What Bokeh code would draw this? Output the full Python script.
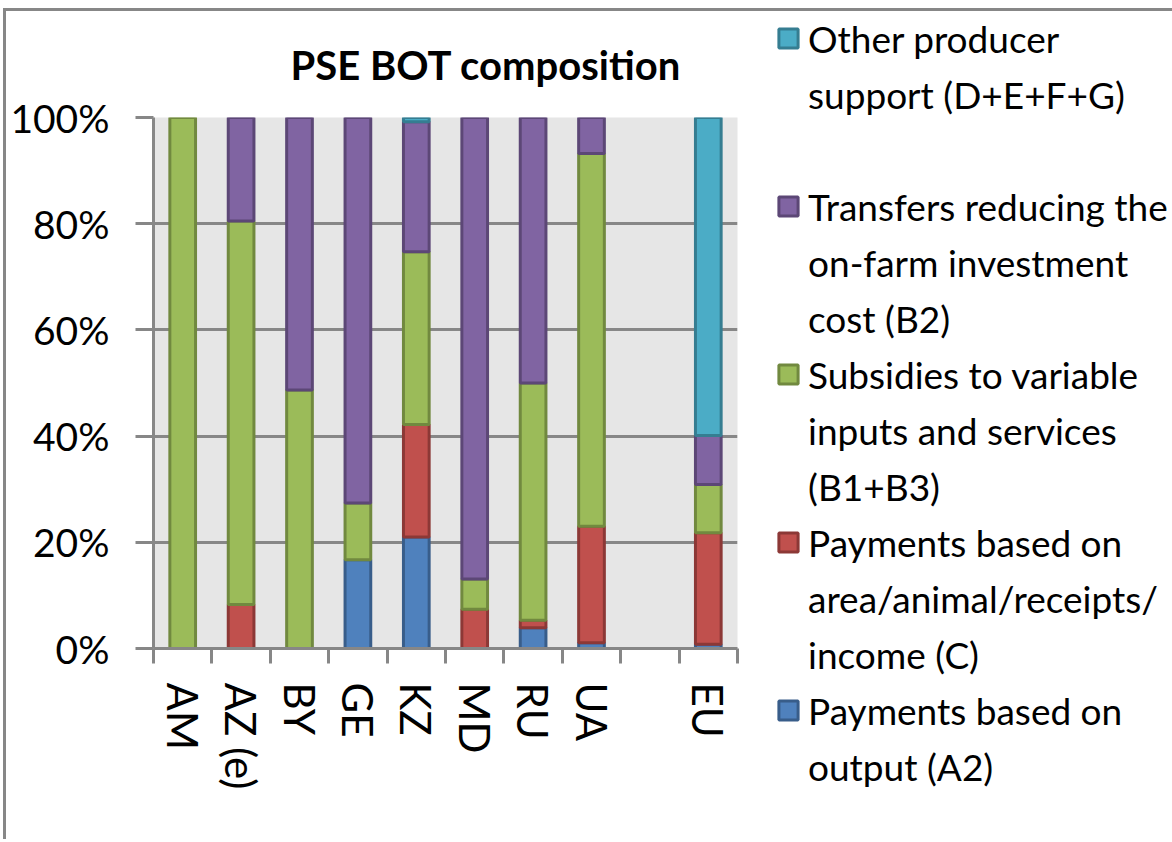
import numpy as np
from bokeh.plotting import figure
from bokeh.models import (Range1d, FixedTicker, PrintfTickFormatter, ColumnDataSource,
                          Legend, LegendItem)
from bokeh.layouts import row
from bokeh.embed import file_html
from bokeh.resources import INLINE

# ---------------- data ----------------
categories = ["AM", "AZ (e)", "BY", "GE", "KZ", "MD", "RU", "UA", "", "EU"]

output_a2 = [0, 0, 0, 16.7, 21.0, 0, 3.9, 1.1, 0, 0.8]
area_animal_c = [0, 8.3, 0, 0, 21.2, 7.4, 1.4, 21.9, 0, 21.0]
variable_inputs_b1b3 = [100, 72.2, 48.7, 10.7, 32.5, 5.7, 44.7, 70.2, 0, 9.1]
investment_b2 = [0, 19.5, 51.3, 72.6, 24.5, 86.9, 50.0, 6.8, 0, 9.2]
other_defg = [0, 0, 0, 0, 0.8, 0, 0, 0, 0, 59.9]

series_values = [output_a2, area_animal_c, variable_inputs_b1b3, investment_b2, other_defg]
series_labels = [
    ["Payments based on", "output (A2)"],
    ["Payments based on", "area/animal/receipts/", "income (C)"],
    ["Subsidies to variable", "inputs and services", "(B1+B3)"],
    ["Transfers reducing the", "on-farm investment", "cost (B2)"],
    ["Other producer", "support (D+E+F+G)"],
]
fill_colors = ["#4F81BD", "#C0504D", "#9BBB59", "#8064A2", "#4BACC6"]
line_colors = ["#385D8A", "#8C3836", "#71893F", "#5C4776", "#357D91"]

y_ticks = [0, 20, 40, 60, 80, 100]
title_text = "PSE BOT composition"

FONT = "Lato"
GREY = "#878787"

# ---------------- main chart ----------------
n = len(categories)
x_centers = np.arange(n) + 0.5

p = figure(frame_width=584, frame_height=531, x_range=Range1d(0, n), y_range=Range1d(0, 100),
           output_backend="svg", toolbar_location=None,
           min_border_left=147, min_border_right=0, min_border_top=106, min_border_bottom=191,
           background_fill_color="#E6E6E6", border_fill_color="white",
           outline_line_color=None)

renderers = []
bottom = np.zeros(n)
for vals, fc, lc in zip(series_values, fill_colors, line_colors):
    v = np.array(vals, dtype=float)
    m = v > 0
    src = ColumnDataSource(dict(x=x_centers[m], bottom=bottom[m], top=(bottom + v)[m]))
    r = p.vbar(x="x", bottom="bottom", top="top", width=0.44, source=src,
               fill_color=fc, line_color=lc, line_width=3)
    renderers.append(r)
    bottom = bottom + v

# y axis
p.yaxis.ticker = FixedTicker(ticks=y_ticks)
p.yaxis.formatter = PrintfTickFormatter(format="%d%%")
p.yaxis.major_tick_out = 18
p.yaxis.major_tick_in = 0
p.yaxis.minor_tick_line_color = None
p.yaxis.major_tick_line_color = GREY
p.yaxis.major_tick_line_width = 3
p.yaxis.axis_line_color = GREY
p.yaxis.axis_line_width = 3
p.yaxis.major_label_standoff = 26
p.yaxis.major_label_text_font = FONT
p.yaxis.major_label_text_font_size = "39px"
p.yaxis.major_label_text_color = "black"

# x axis: labels at centres, tick marks at boundaries
p.xaxis.ticker = FixedTicker(ticks=list(x_centers), minor_ticks=list(range(n + 1)))
p.xaxis.major_label_overrides = {float(x): c for x, c in zip(x_centers, categories)}
p.xaxis.major_tick_out = 0
p.xaxis.major_tick_in = 0
p.xaxis.major_tick_line_color = None
p.xaxis.minor_tick_out = 15
p.xaxis.minor_tick_in = 0
p.xaxis.minor_tick_line_color = GREY
p.xaxis.minor_tick_line_width = 3
p.xaxis.axis_line_color = GREY
p.xaxis.axis_line_width = 3
p.xaxis.major_label_orientation = "vertical"
p.xaxis.major_label_standoff = 19
p.xaxis.major_label_text_font = FONT
p.xaxis.major_label_text_font_size = "42px"
p.xaxis.major_label_text_color = "black"

p.xgrid.visible = False
p.ygrid.ticker = FixedTicker(ticks=y_ticks)
p.ygrid.grid_line_color = GREY
p.ygrid.grid_line_width = 3

# title
p.title.text = title_text
p.title.text_font = FONT
p.title.text_font_size = "40px"
p.title.text_font_style = "bold"
p.title.text_color = "black"
p.title.align = "left"
p.title.offset = 137
p.title.vertical_align = "top"
p.title.standoff = 54

# ---------------- legend (right panel) ----------------
dummy = p.scatter(x=[], y=[], fill_alpha=0, line_alpha=0)
items = []
for s in [4, 3, 2, 1, 0]:
    lines = series_labels[s]
    items.append(LegendItem(label=lines[0], renderers=[renderers[s]]))
    for t in lines[1:]:
        items.append(LegendItem(label=t, renderers=[dummy]))
    for _ in range(3 - len(lines)):
        items.append(LegendItem(label=" ", renderers=[dummy]))
items = items[:-1]  # no trailing blank row after the last entry

legend = Legend(items=items, location=(39, -141), orientation="vertical",
                glyph_width=24, glyph_height=24, label_standoff=8,
                label_height=46, label_width=403, spacing=10, padding=0, margin=0,
                border_line_color=None, background_fill_alpha=0,
                label_text_font=FONT, label_text_font_size="37px",
                label_text_color="black")
p.add_layout(legend, "right")

layout = row(p, styles={"border-top": "3px solid #878787", "border-left": "3px solid #878787",
                        "margin-top": "8px", "margin-left": "3px"})

open("out.html", "w").write(file_html(layout, INLINE))
